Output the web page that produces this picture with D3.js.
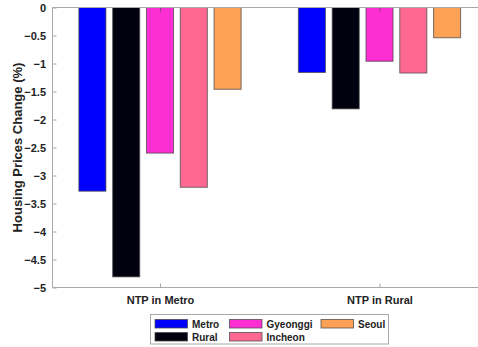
<!DOCTYPE html>
<html>
<head>
<meta charset="utf-8">
<script src="https://cdn.jsdelivr.net/npm/d3@7"></script>
<style>
  html, body { margin: 0; padding: 0; background: #fff; }
  svg { display: block; font-family: "Liberation Sans", Arial, Helvetica, sans-serif; font-weight: bold; }
</style>
</head>
<body>
<svg id="chart" width="478" height="347"></svg>
<script>
// Scenario groups on the x axis
const groups = ["NTP in Metro", "NTP in Rural"];
// Regions (one bar per region in each group)
const regions = ["Metro", "Rural", "Gyeonggi", "Incheon", "Seoul"];
const regionColors = ["#0000ff", "#00000f", "#fd2ed2", "#fe6891", "#fda157"];
// Housing price change (%) for each region, by group
const metroValues = [-3.28, -1.16];
const ruralValues = [-4.81, -1.81];
const gyeonggiValues = [-2.60, -0.96];
const incheonValues = [-3.21, -1.17];
const seoulValues = [-1.46, -0.54];
const yTicks = [0, -0.5, -1, -1.5, -2, -2.5, -3, -3.5, -4, -4.5, -5];

const seriesValues = [metroValues, ruralValues, gyeonggiValues, incheonValues, seoulValues];
const rows = [];
groups.forEach((g, gi) => {
  regions.forEach((r, ri) => rows.push({ group: g, gi: gi + 1, region: r, value: seriesValues[ri][gi] }));
});

const svg = d3.select("#chart");
const axisColor = "#a8a8a8";
const textColor = "#222";

const plot = { left: 52.5, top: 7.5, bottom: 287.5, right: 478 };

const y = d3.scaleLinear().domain([0, -5]).range([plot.top, plot.bottom]);
const x = d3.scaleLinear().domain([1, 2]).range([160, 379.5]);
const inner = d3.scaleBand().domain(regions).range([-84.5, 84.5]).paddingInner(0.2).paddingOuter(0.1);
const color = d3.scaleOrdinal().domain(regions).range(regionColors);

// Bars
svg.append("g").selectAll("rect").data(rows).join("rect")
  .attr("x", d => x(d.gi) + inner(d.region))
  .attr("y", y(0))
  .attr("width", inner.bandwidth())
  .attr("height", d => y(d.value) - y(0))
  .attr("fill", d => color(d.region))
  .attr("stroke", "#4a4a4a")
  .attr("stroke-opacity", 0.75)
  .attr("stroke-width", 1);

// Box: left, top and bottom axes with inward ticks
const leftAxis = svg.append("g").attr("transform", `translate(${plot.left},0)`)
  .call(d3.axisLeft(y).tickValues(yTicks).tickFormat(d => d === 0 ? "0" : d3.format("")(d)).tickSize(-4).tickPadding(6));
const bottomAxis = svg.append("g").attr("transform", `translate(0,${plot.bottom})`)
  .call(d3.axisBottom(x).tickValues([1, 2]).tickFormat((d, i) => groups[i]).tickSize(-4).tickPadding(9));
const topAxis = svg.append("g").attr("transform", `translate(0,${plot.top})`)
  .call(d3.axisTop(x).tickValues([1, 2]).tickFormat("").tickSize(-4));

[leftAxis, bottomAxis, topAxis].forEach(g => {
  g.select(".domain").remove();
  g.selectAll(".tick line").attr("stroke", axisColor);
  g.selectAll(".tick text").attr("fill", textColor).attr("font-size", 11).attr("font-family", null);
});
topAxis.selectAll(".tick line").attr("stroke", "#8a3a80");
leftAxis.selectAll(".tick text").attr("dx", "-0.5");

// Axis lines
svg.append("line").attr("x1", plot.left).attr("x2", plot.right).attr("y1", plot.top).attr("y2", plot.top).attr("stroke", axisColor);
svg.append("line").attr("x1", plot.left).attr("x2", plot.right).attr("y1", plot.bottom).attr("y2", plot.bottom).attr("stroke", axisColor);
svg.append("line").attr("x1", plot.left).attr("x2", plot.left).attr("y1", plot.top).attr("y2", plot.bottom).attr("stroke", axisColor);

// Y axis title
svg.append("text")
  .attr("transform", `translate(22,${(plot.top + plot.bottom) / 2}) rotate(-90)`)
  .attr("text-anchor", "middle")
  .attr("font-size", 13)
  .attr("fill", textColor)
  .text("Housing Prices Change (%)");

// Legend
const legend = svg.append("g");
legend.append("rect").attr("x", 150.5).attr("y", 314.5).attr("width", 238).attr("height", 29.5)
  .attr("fill", "#fff").attr("stroke", axisColor);
const colX = [155, 229.5, 321];
const rowY = [319.5, 332.5];
regions.forEach((r, i) => {
  const cx = colX[Math.floor(i / 2)], cy = rowY[i % 2];
  legend.append("rect").attr("x", cx).attr("y", cy).attr("width", 32.5).attr("height", 8.5)
    .attr("fill", color(r)).attr("stroke", "#4a4a4a").attr("stroke-opacity", 0.75);
  legend.append("text").attr("x", cx + 37).attr("y", cy + 8.5)
    .attr("font-size", 10).attr("fill", textColor).text(r);
});
</script>
</body>
</html>
